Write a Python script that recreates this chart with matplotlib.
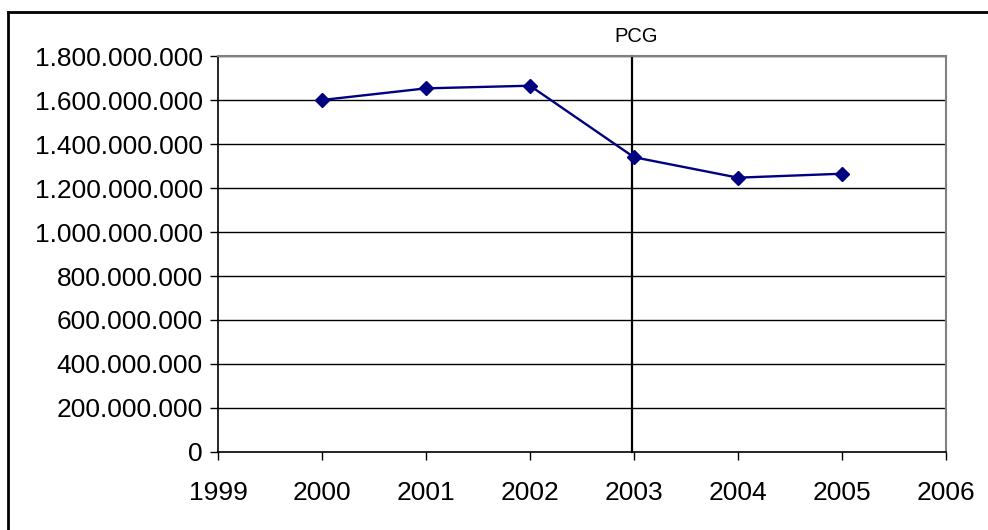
import matplotlib.pyplot as plt
from matplotlib.lines import Line2D
from matplotlib.ticker import FuncFormatter

plt.rcParams['font.family'] = ['Liberation Sans', 'DejaVu Sans']

years = [2000, 2001, 2002, 2003, 2004, 2005]
values = [1600000000, 1653000000, 1665000000, 1340000000, 1247000000, 1265000000]
marker_year = 2003
marker_label = "PCG"

fig = plt.figure(figsize=(9.88, 5.30), dpi=100)
ax = fig.add_axes([0.2206, 0.1472, 0.7369, 0.7471])

# gridlines in black like the spreadsheet default
for v in range(200000000, 1800000001, 200000000):
    ax.axhline(v, color="black", lw=1.0, zorder=1)

ax.plot(years, values, color="#000080", lw=1.7, marker="D", markersize=7,
        markerfacecolor="#000080", markeredgecolor="#000080", zorder=3)

# vertical marker line for PCG
ax.plot([marker_year - 0.02, marker_year - 0.02], [0, 1800000000], color="black",
        lw=1.6, zorder=2, clip_on=False)
ax.text(marker_year + 0.02, 1800000000 + 45000000, marker_label, ha="center",
        va="bottom", fontsize=14.5)

ax.set_xlim(1999, 2006)
ax.set_ylim(0, 1800000000)
ax.set_xticks(range(1999, 2007))
ax.set_yticks(range(0, 1800000001, 200000000))
ax.yaxis.set_major_formatter(FuncFormatter(lambda v, p: f"{int(v):,}".replace(",", ".")))
ax.tick_params(axis="both", direction="out", length=6, width=1.0, labelsize=19, color="black")
ax.tick_params(axis="x", pad=15)
ax.tick_params(axis="y", pad=5)

for side in ["top", "right"]:
    ax.spines[side].set_color("#808080")
    ax.spines[side].set_linewidth(1.5)
for side in ["left", "bottom"]:
    ax.spines[side].set_color("black")
    ax.spines[side].set_linewidth(1.2)

# outer chart frame (only top and left edges show)
fig.add_artist(Line2D([8 / 988, 1.0], [1 - 12 / 530, 1 - 12 / 530], color="black", lw=2.0))
fig.add_artist(Line2D([8 / 988, 8 / 988], [0, 1 - 12 / 530], color="black", lw=2.0))

fig.savefig("out.png", dpi=100)
